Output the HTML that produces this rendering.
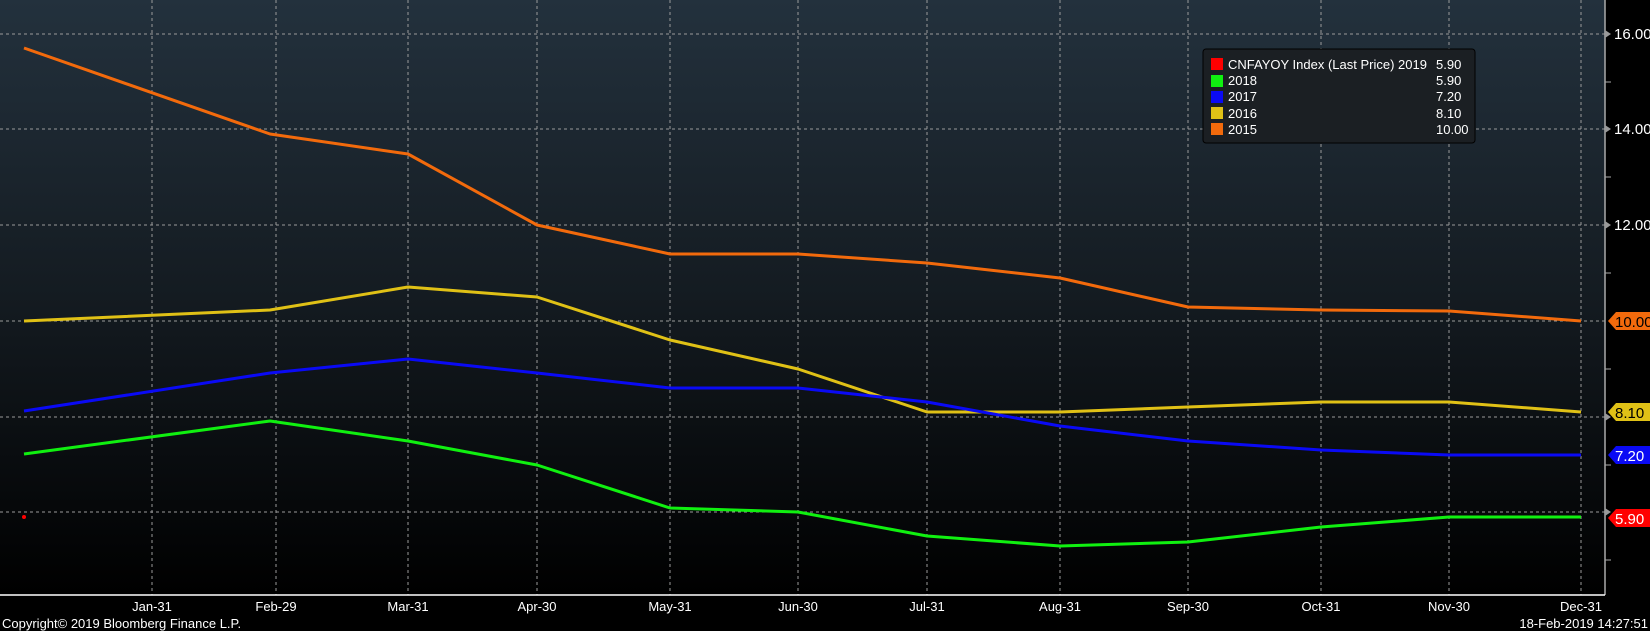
<!DOCTYPE html>
<html><head><meta charset="utf-8"><style>
html,body{margin:0;padding:0;background:#000;}
svg{display:block;font-family:"Liberation Sans",sans-serif;}
</style></head><body>
<svg width="1650" height="631" viewBox="0 0 1650 631" xmlns="http://www.w3.org/2000/svg">
<defs><linearGradient id="bg" x1="0" y1="0" x2="0" y2="1">
<stop offset="0" stop-color="#23313d"/><stop offset="0.5" stop-color="#141b21"/><stop offset="1" stop-color="#000"/></linearGradient></defs>
<rect width="1650" height="631" fill="#000"/>
<rect x="0" y="0" width="1605" height="595" fill="url(#bg)"/>
<g stroke="#9a9a9a" stroke-width="1" stroke-dasharray="3,3" fill="none">
<line x1="0" y1="34" x2="1605" y2="34"/><line x1="0" y1="129" x2="1605" y2="129"/>
<line x1="0" y1="225" x2="1605" y2="225"/><line x1="0" y1="321" x2="1605" y2="321"/>
<line x1="0" y1="417" x2="1605" y2="417"/><line x1="0" y1="512" x2="1605" y2="512"/>
<line x1="152" y1="0" x2="152" y2="595"/><line x1="276" y1="0" x2="276" y2="595"/>
<line x1="408" y1="0" x2="408" y2="595"/><line x1="537" y1="0" x2="537" y2="595"/>
<line x1="670" y1="0" x2="670" y2="595"/><line x1="798" y1="0" x2="798" y2="595"/>
<line x1="927" y1="0" x2="927" y2="595"/><line x1="1060" y1="0" x2="1060" y2="595"/>
<line x1="1188" y1="0" x2="1188" y2="595"/><line x1="1321" y1="0" x2="1321" y2="595"/>
<line x1="1449" y1="0" x2="1449" y2="595"/><line x1="1581" y1="0" x2="1581" y2="595"/>
</g>
<line x1="1605" y1="0" x2="1605" y2="595" stroke="#aaa" stroke-width="1.5"/>
<line x1="0" y1="595" x2="1605" y2="595" stroke="#fff" stroke-width="1.5"/>
<g stroke="#aaa"><line x1="1605" y1="82" x2="1611" y2="82"/><line x1="1605" y1="177" x2="1611" y2="177"/><line x1="1605" y1="273" x2="1611" y2="273"/><line x1="1605" y1="369" x2="1611" y2="369"/><line x1="1605" y1="465" x2="1611" y2="465"/><line x1="1605" y1="560" x2="1611" y2="560"/></g>
<g fill="#999"><path d="M1605 30 L1611 34 L1605 38Z"/><path d="M1605 125 L1611 129 L1605 133Z"/><path d="M1605 221 L1611 225 L1605 229Z"/><path d="M1605 413 L1611 417 L1605 421Z"/><path d="M1605 508 L1611 512 L1605 516Z"/></g>
<g fill="#fff" font-size="15"><text x="1614" y="39">16.00</text><text x="1614" y="134">14.00</text><text x="1614" y="230">12.00</text></g>
<g fill="none" stroke-width="3" stroke-linejoin="round">
<polyline stroke="#f26a0c" points="24,48 270,134 408,154 537,225 670,254 798,254 927,263 1060,278 1188,307 1321,310 1449,311 1581,321"/>
<polyline stroke="#e0c116" points="24,321 270,310 408,287 537,297 670,340 798,369 927,412 1060,412 1188,407 1321,402 1449,402 1581,412"/>
<polyline stroke="#0a0af5" points="24,411 270,373 408,359 537,373 670,388 798,388 927,402 1060,426 1188,441 1321,450 1449,455 1581,455"/>
<polyline stroke="#10f010" points="24,454 270,421 408,441 537,465 670,508 798,512 927,536 1060,546 1188,542 1321,527 1449,517 1581,517"/>
</g>
<circle cx="24" cy="517" r="2" fill="#f00"/>
<g font-size="15">
<path d="M1608 321 L1616 312 L1650 312 L1650 330 L1616 330Z" fill="#f26a0c"/><text x="1615" y="327" fill="#000">10.00</text>
<path d="M1608 412 L1616 403 L1650 403 L1650 421 L1616 421Z" fill="#e0c116"/><text x="1615" y="418" fill="#000">8.10</text>
<path d="M1608 455 L1616 446 L1650 446 L1650 464 L1616 464Z" fill="#0a0af5"/><text x="1615" y="461" fill="#fff">7.20</text>
<path d="M1608 518 L1616 509 L1650 509 L1650 527 L1616 527Z" fill="#f00"/><text x="1615" y="524" fill="#fff">5.90</text>
</g>
<rect x="1203" y="49" width="272" height="94" rx="3" fill="#1b1f23" stroke="#000" stroke-width="1"/>
<g font-size="13" fill="#fff">
<rect x="1211" y="58" width="12" height="12" fill="#f00"/><text x="1228" y="69">CNFAYOY Index (Last Price) 2019</text><text x="1436" y="69">5.90</text>
<rect x="1211" y="75" width="12" height="12" fill="#10f010"/><text x="1228" y="85">2018</text><text x="1436" y="85">5.90</text>
<rect x="1211" y="91" width="12" height="12" fill="#0a0af5"/><text x="1228" y="101">2017</text><text x="1436" y="101">7.20</text>
<rect x="1211" y="107" width="12" height="12" fill="#e0c116"/><text x="1228" y="118">2016</text><text x="1436" y="118">8.10</text>
<rect x="1211" y="123" width="12" height="12" fill="#f26a0c"/><text x="1228" y="134">2015</text><text x="1436" y="134">10.00</text>
</g>
<g font-size="13" fill="#fff" text-anchor="middle">
<text x="152" y="611">Jan-31</text><text x="276" y="611">Feb-29</text><text x="408" y="611">Mar-31</text><text x="537" y="611">Apr-30</text><text x="670" y="611">May-31</text><text x="798" y="611">Jun-30</text><text x="927" y="611">Jul-31</text><text x="1060" y="611">Aug-31</text><text x="1188" y="611">Sep-30</text><text x="1321" y="611">Oct-31</text><text x="1449" y="611">Nov-30</text><text x="1581" y="611">Dec-31</text>
</g>
<text x="2" y="628" font-size="13" fill="#fff">Copyright© 2019 Bloomberg Finance L.P.</text>
<text x="1648" y="628" font-size="13" fill="#fff" text-anchor="end">18-Feb-2019 14:27:51</text>
</svg>
</body></html>
